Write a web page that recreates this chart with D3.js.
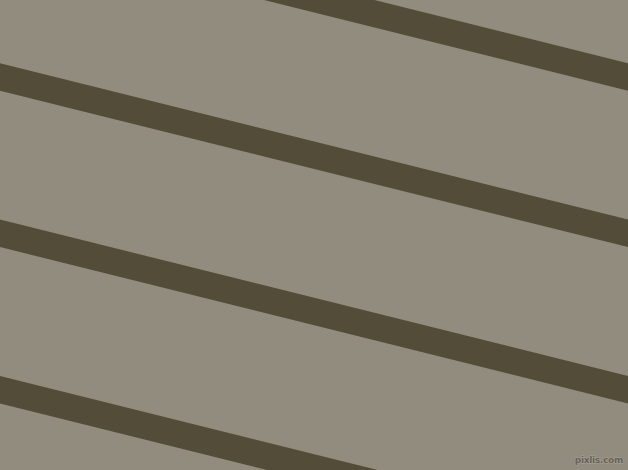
<!DOCTYPE html>
<html>
<head>
<meta charset="utf-8">
<script src="https://cdn.jsdelivr.net/npm/d3@7"></script>
<style>
    html, body { margin: 0; padding: 0; background: #928c7e; overflow: hidden; }
    svg { display: block; }
</style>
</head>
<body>
<div id="stripes"></div>
<script>
// Stripe levels: each stripe climbs exactly one level across the width
var stripeLevels = [-1, 0, 1, 2];
var runStart = [-0.1];
var runEnd = [1.1];
var credit = ['pixlis.com'];

var width = 628;
var height = 470;

var svg = d3.select('#stripes')
    .append('svg')
    .attr('width', width)
    .attr('height', height);

svg.append('rect')
    .attr('width', width)
    .attr('height', height)
    .style('fill', '#928c7e');

// Scales
var x = d3.scaleLinear()
    .domain([0, 1])
    .range([0, width]);

var y = d3.scaleLinear()
    .domain([0, 1])
    .range([76.9, 233.3]);

var line = d3.line()
    .x(function (d) { return x(d[0]); })
    .y(function (d) { return y(d[1]); });

svg.selectAll('.stripe')
    .data(stripeLevels)
    .enter()
    .append('path')
    .attr('class', 'stripe')
    .attr('d', function (k) {
        return line([
            [runStart[0], k + runStart[0]],
            [runEnd[0], k + runEnd[0]]
        ]);
    })
    .style('fill', 'none')
    .style('stroke', '#524c38')
    .style('stroke-width', 26.7);

// Watermark
svg.append('text')
    .attr('x', 623)
    .attr('y', 462.5)
    .attr('text-anchor', 'end')
    .style('font-family', 'DejaVu Sans')
    .style('font-size', '9px')
    .style('font-weight', 'bold')
    .style('letter-spacing', '-0.3px')
    .style('paint-order', 'stroke')
    .style('fill', '#66625a')
    .style('stroke', '#aaa496')
    .style('stroke-width', 1)
    .text(credit[0]);
</script>
</body>
</html>
